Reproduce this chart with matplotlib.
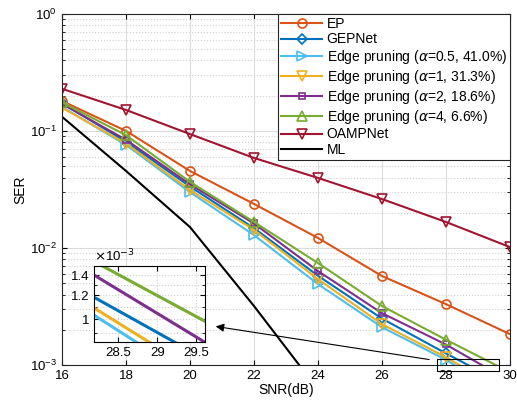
import numpy as np
import matplotlib
matplotlib.use("Agg")
import matplotlib.pyplot as plt
from matplotlib.patches import Rectangle, FancyArrowPatch

plt.rcParams['font.family'] = ['Liberation Sans', 'DejaVu Sans']
plt.rcParams['mathtext.fontset'] = 'dejavusans'

# datos
snr = [16, 18, 20, 22, 24, 26, 28, 30]
ser_ep = [0.180, 0.100, 0.0455, 0.0238, 0.0122, 0.00577, 0.00332, 0.00184]
ser_gepnet = [0.172, 0.081, 0.0335, 0.0148, 0.0058, 0.0025, 0.00126, 0.00065]
ser_a05 = [0.160, 0.076, 0.0300, 0.0129, 0.00492, 0.00211, 0.00111, 0.00052]
ser_a1 = [0.158, 0.078, 0.0313, 0.0143, 0.00543, 0.00224, 0.00117, 0.00056]
ser_a2 = [0.170, 0.084, 0.0350, 0.0162, 0.00636, 0.00278, 0.00150, 0.00073]
ser_a4 = [0.175, 0.092, 0.0367, 0.0167, 0.00745, 0.00320, 0.00165, 0.00087]
ser_oamp = [0.229, 0.151, 0.094, 0.0588, 0.0397, 0.0262, 0.0167, 0.0102]
snr_ml = [16, 18, 20, 22, 24]
ser_ml = [0.132, 0.0455, 0.0151, 0.0032, 0.00062]

labels = ['EP', 'GEPNet',
          r'Edge pruning ($\alpha$=0.5, 41.0%)',
          r'Edge pruning ($\alpha$=1, 31.3%)',
          r'Edge pruning ($\alpha$=2, 18.6%)',
          r'Edge pruning ($\alpha$=4, 6.6%)',
          'OAMPNet', 'ML']

series = [ser_ep, ser_gepnet, ser_a05, ser_a1, ser_a2, ser_a4, ser_oamp]
colores = ['#D95319', '#0072BD', '#4DBEEE', '#EDB120', '#7E2F8E', '#77AC30', '#A2142F']
marcas = ['o', 'D', '>', 'v', 's', '^', 'v']
tamanos = [6.5, 5, 6.5, 6.5, 5, 6.5, 6.5]

fig = plt.figure(figsize=(5.17, 4.07), dpi=100)
ax = fig.add_axes([0.12, 0.103, 0.866, 0.863])

for y, c, m, s, lab in zip(series, colores, marcas, tamanos, labels):
    ax.semilogy(snr, y, color=c, marker=m, markersize=s, markerfacecolor='none',
                markeredgewidth=1.2, linewidth=1.5, label=lab)
ax.semilogy(snr_ml, ser_ml, color='black', linewidth=1.5, label=labels[7])

ax.set_xlim(16, 30)
ax.set_ylim(1e-3, 1)
ax.set_xticks(np.arange(16, 31, 2))
ax.grid(True, which='major', color='#dcdcdc', linewidth=0.8)
ax.grid(True, which='minor', axis='y', color='#cfcfcf', linestyle=':', linewidth=0.8)
ax.tick_params(which='both', direction='in', top=True, right=True, labelsize=9.5)
ax.tick_params(which='minor', length=2.5)
ax.set_xlabel('SNR(dB)', fontsize=10, labelpad=1)
ax.set_ylabel('SER', fontsize=10, labelpad=2)
for sp in ax.spines.values():
    sp.set_color('#262626')

leg = ax.legend(loc='upper right', fontsize=10, fancybox=False, edgecolor='#262626',
                handlelength=3.0, borderpad=0.2, labelspacing=0.13, handletextpad=0.3,
                borderaxespad=0.0, framealpha=1)
leg.get_frame().set_linewidth(0.8)

# rectangulo de zoom y flecha
rect = Rectangle((27.73, 10**-3.05), 1.93, 10**-2.95 - 10**-3.05, fill=False,
                 edgecolor='black', linewidth=0.8, clip_on=False, zorder=5)
ax.add_patch(rect)
fig.add_artist(FancyArrowPatch(
    (432 / 517, 1 - 360 / 407), (213 / 517, 1 - 326 / 407),
    transform=fig.transFigure, arrowstyle='-|>', mutation_scale=12,
    color='black', linewidth=0.8))

# grafica interna
axi = fig.add_axes([0.1818, 0.1597, 0.2147, 0.1867])
for y, c in zip(series[1:6], colores[1:6]):
    axi.semilogy(snr, y, color=c, linewidth=2.2)
axi.set_xlim(28.19, 29.61)
axi.set_ylim(0.842e-3, 1.477e-3)
axi.set_xticks([28.5, 29, 29.5])
axi.set_xticklabels(['28.5', '29', '29.5'])
axi.set_yticks([1e-3, 1.2e-3, 1.4e-3])
axi.set_yticklabels(['1', '1.2', '1.4'])
axi.set_yticks([0.9e-3, 1.1e-3, 1.3e-3, 1.5e-3], minor=True)
axi.yaxis.set_minor_formatter(matplotlib.ticker.NullFormatter())
axi.grid(True, which='both', color='#cfcfcf', linestyle=':', linewidth=0.8)
axi.tick_params(which='both', direction='in', top=True, right=True, labelsize=9.5)
axi.tick_params(which='minor', length=2.5)
axi.text(0.0, 1.02, r'$\times$10$^{-3}$', transform=axi.transAxes, fontsize=9.5,
         ha='left', va='bottom')

plt.savefig('out.png', dpi=100)
